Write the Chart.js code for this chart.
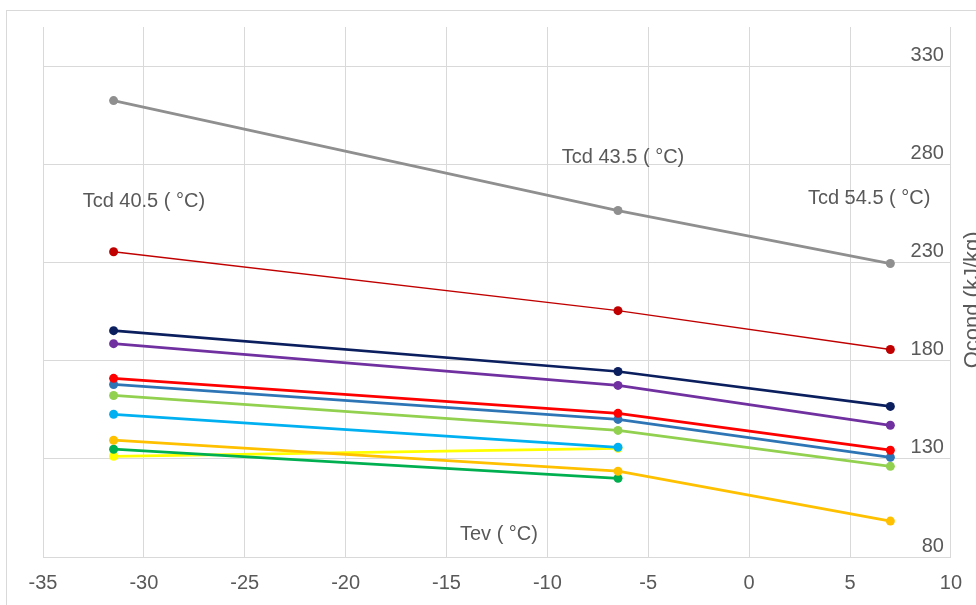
<!DOCTYPE html>
<html>
<head>
<meta charset="utf-8">
<script src="https://cdn.jsdelivr.net/npm/chart.js@4.4.1/dist/chart.umd.min.js"></script>
<style>
  html, body { margin: 0; padding: 0; background: #fff; }
  #wrap { width: 976px; height: 605px; }
</style>
</head>
<body>
<div id="wrap"><canvas id="chart" width="976" height="605"></canvas></div>
<script>
// Tev (°C) en abscisse, Qcond (kJ/kg) en ordonnée
const tev = [-31.5, -6.5, 7];
const xTicks = [-35, -30, -25, -20, -15, -10, -5, 0, 5, 10];
const yTicks = [80, 130, 180, 230, 280, 330];

const gray = [312.5, 256.5, 229.5];
const darkRed = [235.5, 205.5, 185.7];
const navy = [195.3, 174.5, 156.7];
const purple = [188.7, 167.4, 147.1];
const red = [171.0, 153.2, 134.4];
const blue = [167.9, 150.1, 130.8];
const lightGreen = [162.3, 144.5, 126.2];
const lightBlue = [152.7, 135.9];
const orange = [139.5, 123.7, 98.3];
const green = [134.9, 120.1];
const yellow = [131.3, 135.4];

const notes = [
  { text: "Tcd 40.5 ( °C)", x: -30.0, y: 261 },
  { text: "Tcd 43.5 ( °C)", x: -6.25, y: 283.3 },
  { text: "Tcd 54.5 ( °C)", x: 5.95, y: 262.4 },
  { text: "Tev ( °C)", x: -12.4, y: 91.5 }
];
const yTitle = "Qcond (kJ/kg)";

const FONT = '"Liberation Sans", Arial, sans-serif';
const TXT = "#595959";

function pts(vals) {
  return vals.map((v, i) => ({ x: tev[i], y: v }));
}

function serie(vals, color, width) {
  return {
    data: pts(vals),
    borderColor: color,
    backgroundColor: color,
    borderWidth: width || 2.75,
    pointRadius: 4.5,
    pointBorderWidth: 0,
    pointHoverRadius: 4.5,
    tension: 0
  };
}

// cadre + annotations
const extras = {
  id: "extras",
  beforeDraw(chart) {
    const ctx = chart.ctx;
    ctx.save();
    ctx.fillStyle = "#fff";
    ctx.fillRect(0, 0, chart.width, chart.height);
    ctx.strokeStyle = "#d9d9d9";
    ctx.lineWidth = 1;
    ctx.strokeRect(6.5, 10.5, 1100, 1100);
    ctx.restore();
  },
  afterDraw(chart) {
    const ctx = chart.ctx;
    const xs = chart.scales.x, ys = chart.scales.y;
    ctx.save();
    ctx.fillStyle = TXT;
    ctx.font = "20px " + FONT;
    ctx.textAlign = "center";
    ctx.textBaseline = "middle";
    notes.forEach(n => {
      ctx.fillText(n.text, xs.getPixelForValue(n.x), ys.getPixelForValue(n.y));
    });
    ctx.font = "22px " + FONT;
    ctx.translate(979, ys.getPixelForValue(211));
    ctx.rotate(-Math.PI / 2);
    ctx.textBaseline = "alphabetic";
    ctx.fillText(yTitle, 0, 0);
    ctx.restore();
  }
};

new Chart(document.getElementById("chart"), {
  type: "line",
  data: {
    datasets: [
      serie(gray, "#8f8f8f"),
      serie(darkRed, "#c00000", 1.4),
      serie(navy, "#0b1f5e"),
      serie(purple, "#7030a0"),
      serie(red, "#ff0000"),
      serie(blue, "#2e75b6"),
      serie(lightGreen, "#92d050"),
      serie(lightBlue, "#00b0f0"),
      serie(orange, "#ffc000"),
      serie(green, "#00b050"),
      serie(yellow, "#ffff00")
    ]
  },
  options: {
    responsive: false,
    animation: false,
    layout: { padding: { left: 43, top: 27, right: 0, bottom: 0 } },
    plugins: { legend: { display: false }, tooltip: { enabled: false } },
    scales: {
      x: {
        type: "linear",
        min: -35,
        max: 10,
        afterBuildTicks: s => { s.ticks = xTicks.map(v => ({ value: v })); },
        afterFit: s => { s.height = 48; },
        ticks: { color: TXT, font: { size: 20, family: FONT }, padding: 14 },
        grid: { color: "#d9d9d9", drawTicks: false },
        border: { color: "#d9d9d9" }
      },
      y: {
        position: "right",
        min: 80,
        max: 350,
        afterBuildTicks: s => { s.ticks = yTicks.map(v => ({ value: v })); },
        afterFit: s => { s.width = 22; },
        ticks: { color: TXT, font: { size: 20, family: FONT }, mirror: true, padding: -7, labelOffset: -11 },
        grid: { color: "#d9d9d9", drawTicks: false },
        border: { display: false }
      }
    }
  },
  plugins: [extras]
});
</script>
</body>
</html>
